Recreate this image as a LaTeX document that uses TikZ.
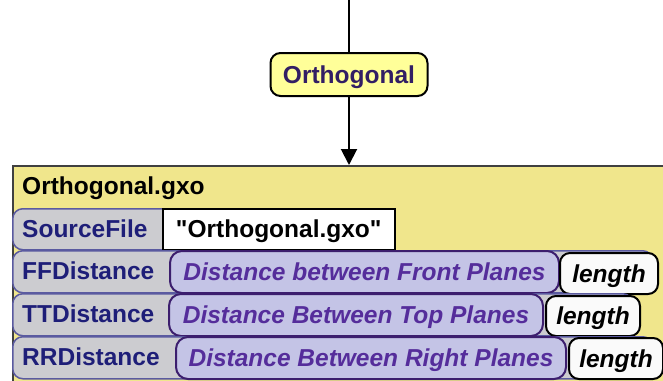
\documentclass[tikz,border=0pt]{standalone}
\usepackage{fontspec}
\setmainfont{Liberation Sans}[Ligatures=TeXOff]
\usetikzlibrary{arrows.meta}

\definecolor{opfill}{RGB}{255,255,153}
\definecolor{opink}{RGB}{50,30,100}
\definecolor{gxofill}{RGB}{240,230,140}
\definecolor{bandgray}{RGB}{204,204,208}
\definecolor{bandedge}{RGB}{90,90,160}
\definecolor{keyink}{RGB}{30,30,120}
\definecolor{descfill}{RGB}{196,196,230}
\definecolor{descedge}{RGB}{60,30,110}
\definecolor{descink}{RGB}{85,45,155}
\definecolor{typefill}{RGB}{250,250,250}

\tikzset{
  x=1pt, y=-1pt,
  every node/.style={font=\fontsize{24.5}{28}\selectfont\bfseries,
    text height=17pt, text depth=0pt, inner sep=0pt},
  opnode/.style={draw=black, line width=2pt, fill=opfill, text=opink,
    rounded corners=10pt, minimum width=157pt, minimum height=43pt},
  gxobox/.style={draw=black!75, line width=1.5pt, fill=gxofill,
    anchor=north west, minimum width=720pt, minimum height=260pt},
  titletext/.style={anchor=base west, text=black},
  band/.style={draw=bandedge, line width=1.5pt, fill=bandgray,
    rounded corners=10pt, anchor=north west},
  keytext/.style={anchor=base west, text=keyink},
  strbox/.style={draw=black, line width=1.5pt, fill=white, anchor=north west},
  descbox/.style={draw=descedge, line width=2pt, fill=descfill, text=descink,
    rounded corners=12pt, anchor=north west,
    font=\fontsize{24.5}{28}\selectfont\bfseries\itshape},
  typebox/.style={draw=black, line width=2pt, fill=typefill, text=black,
    rounded corners=10pt, anchor=north west,
    font=\fontsize{24.5}{28}\selectfont\bfseries\itshape},
  flow/.style={line width=2pt, draw=black}
}

\begin{document}
\begin{tikzpicture}
  \useasboundingbox (0,0) rectangle (663,380);
  \clip (0,0) rectangle (663,380);

  % operation node and its incoming wire
  \coordinate (entry) at (349,0);
  \node[opnode] (op) at (349,74.5) {Orthogonal};

  % output object
  \node[gxobox] (gxo) at (12,165) {};
  \node[titletext] (title) at (22,194) {Orthogonal.gxo};

  \draw[flow] (entry) -- (op);
  \draw[flow, -{Triangle[length=16pt,width=16pt]}] (op) -- (op.south |- gxo.north);

  % SourceFile
  \node[band, minimum width=190pt, minimum height=41pt] (b1) at (12,208) {};
  \node[keytext] (k1) at (22,237) {SourceFile};
  \node[strbox, minimum width=232pt, minimum height=41pt] (v1) at (162,208)
    {"Orthogonal.gxo"};

  % FFDistance
  \node[band, minimum width=640pt, minimum height=42pt] (b2) at (12,250) {};
  \node[keytext] (k2) at (22,279.5) {FFDistance};
  \node[descbox, minimum width=389pt, minimum height=42pt] (d2) at (169,250) {Distance between Front Planes};
  \node[typebox, minimum width=98pt, minimum height=41pt] (t2) at (559,252) {length};

  % TTDistance
  \node[band, minimum width=620pt, minimum height=42pt] (b3) at (12,293) {};
  \node[keytext] (k3) at (22,322.5) {TTDistance};
  \node[descbox, minimum width=374pt, minimum height=42pt] (d3) at (168,293) {Distance Between Top Planes};
  \node[typebox, minimum width=94pt, minimum height=40pt] (t3) at (545,295) {length};

  % RRDistance
  \node[band, minimum width=640pt, minimum height=42pt] (b4) at (12,336) {};
  \node[keytext] (k4) at (22,365.5) {RRDistance};
  \node[descbox, minimum width=390pt, minimum height=42pt] (d4) at (175,336) {Distance Between Right Planes};
  \node[typebox, minimum width=94pt, minimum height=41pt] (t4) at (568,337) {length};
\end{tikzpicture}
\end{document}
